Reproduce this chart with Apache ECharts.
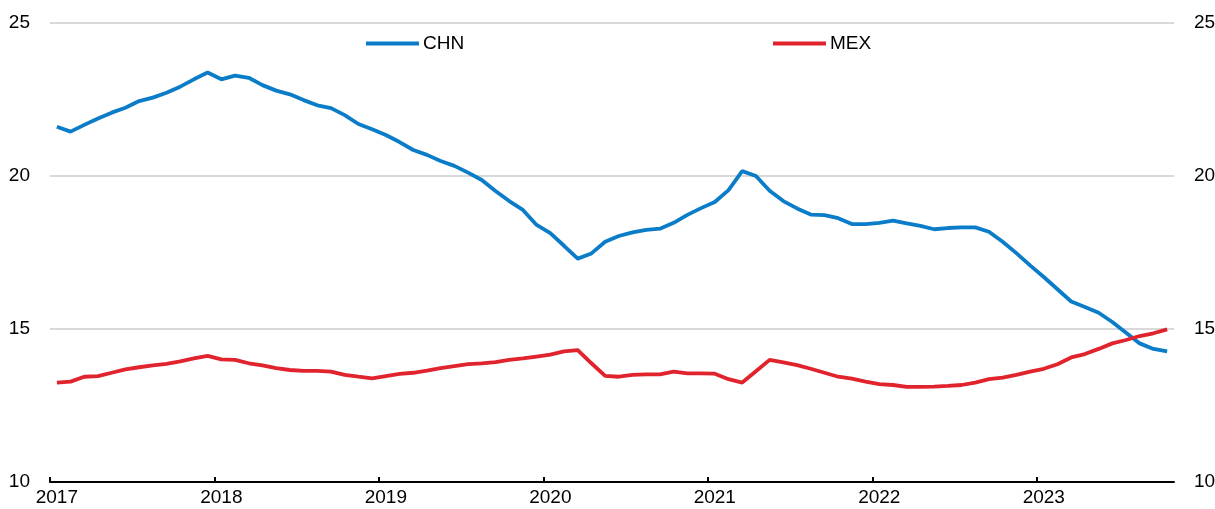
<!DOCTYPE html>
<html>
<head>
<meta charset="utf-8">
<script src="https://cdn.jsdelivr.net/npm/echarts@6/dist/echarts.min.js"></script>
<style>
  html, body { margin: 0; padding: 0; background: #fff; }
  #chart { width: 1215px; height: 509px; }
</style>
</head>
<body>
<div id="chart"></div>
<script>
// Monthly categories, Jan 2017 .. Oct 2023
const months = [
  '2017-01','2017-02','2017-03','2017-04','2017-05','2017-06','2017-07','2017-08','2017-09','2017-10','2017-11','2017-12',
  '2018-01','2018-02','2018-03','2018-04','2018-05','2018-06','2018-07','2018-08','2018-09','2018-10','2018-11','2018-12',
  '2019-01','2019-02','2019-03','2019-04','2019-05','2019-06','2019-07','2019-08','2019-09','2019-10','2019-11','2019-12',
  '2020-01','2020-02','2020-03','2020-04','2020-05','2020-06','2020-07','2020-08','2020-09','2020-10','2020-11','2020-12',
  '2021-01','2021-02','2021-03','2021-04','2021-05','2021-06','2021-07','2021-08','2021-09','2021-10','2021-11','2021-12',
  '2022-01','2022-02','2022-03','2022-04','2022-05','2022-06','2022-07','2022-08','2022-09','2022-10','2022-11','2022-12',
  '2023-01','2023-02','2023-03','2023-04','2023-05','2023-06','2023-07','2023-08','2023-09','2023-10'
];
// Month boundaries (start of each month, plus the end of the last one) for the year ticks
const monthBounds = months.concat(['2023-11']);

const chn = [
  21.61,21.45,21.67,21.88,22.07,22.23,22.45,22.56,22.72,22.92,23.16,23.38,
  23.16,23.28,23.21,22.97,22.79,22.67,22.48,22.31,22.22,21.99,21.70,21.53,
  21.34,21.11,20.85,20.69,20.49,20.33,20.11,19.87,19.51,19.18,18.89,18.40,
  18.13,17.72,17.30,17.47,17.85,18.04,18.16,18.24,18.28,18.47,18.73,18.95,
  19.15,19.54,20.16,20.00,19.52,19.18,18.94,18.74,18.72,18.62,18.43,18.43,
  18.47,18.54,18.45,18.37,18.26,18.30,18.32,18.32,18.18,17.85,17.48,17.08,
  16.70,16.30,15.90,15.72,15.53,15.23,14.88,14.53,14.35,14.27
];

const mex = [
  13.25,13.28,13.44,13.46,13.57,13.68,13.75,13.81,13.86,13.94,14.04,14.12,
  14.01,13.99,13.88,13.81,13.72,13.66,13.63,13.63,13.61,13.50,13.44,13.39,
  13.46,13.53,13.57,13.64,13.72,13.79,13.85,13.88,13.92,13.99,14.04,14.10,
  14.16,14.27,14.31,13.88,13.47,13.44,13.50,13.52,13.52,13.61,13.55,13.55,
  13.54,13.36,13.25,13.62,13.99,13.91,13.82,13.70,13.57,13.44,13.38,13.28,
  13.20,13.17,13.11,13.11,13.12,13.14,13.17,13.25,13.36,13.41,13.50,13.61,
  13.70,13.85,14.07,14.18,14.35,14.53,14.64,14.77,14.86,14.99
];

const yTicks = { min: 10, max: 25, interval: 5 };

const FONT = "'Liberation Sans', Arial, sans-serif";
const FS = 19;
const BLUE = '#0a7cc8';
const RED = '#e0232d';

const chart = echarts.init(document.getElementById('chart'), null, { renderer: 'canvas' });

const isJan = (idx, val) => String(val).slice(5) === '01';
const gridBox = { left: 50, right: 41, top: 23, bottom: 27, outerBoundsMode: 'none', containLabel: false };

chart.setOption({
  animation: false,
  backgroundColor: '#fff',
  grid: [ Object.assign({}, gridBox), Object.assign({}, gridBox) ],
  legend: [
    {
      data: ['CHN'], left: 366, top: 34, padding: 0, icon: 'rect',
      itemWidth: 53, itemHeight: 4, itemGap: 0,
      textStyle: { fontFamily: FONT, fontSize: FS, color: '#000', padding: [0, 0, 0, -1] }
    },
    {
      data: ['MEX'], left: 773, top: 34, padding: 0, icon: 'rect',
      itemWidth: 53, itemHeight: 4, itemGap: 0,
      textStyle: { fontFamily: FONT, fontSize: FS, color: '#000', padding: [0, 0, 0, -1] }
    }
  ],
  xAxis: [
    {
      gridIndex: 0,
      type: 'category',
      data: months,
      boundaryGap: true,
      axisLine: { show: true, lineStyle: { color: '#000', width: 2 } },
      axisTick: { show: false },
      axisLabel: {
        interval: isJan,
        formatter: v => v.slice(0, 4),
        fontFamily: FONT, fontSize: FS, color: '#000', margin: 6
      },
      splitLine: { show: false },
      z: 5
    },
    {
      gridIndex: 1,
      type: 'category',
      data: monthBounds,
      boundaryGap: false,
      axisLine: { show: false },
      axisTick: { show: true, inside: true, length: 5, interval: isJan, lineStyle: { color: '#000', width: 2 } },
      axisLabel: { show: false },
      splitLine: { show: false },
      z: 5
    }
  ],
  yAxis: [
    {
      gridIndex: 0,
      type: 'value', min: yTicks.min, max: yTicks.max, interval: yTicks.interval,
      position: 'left',
      axisLine: { show: false }, axisTick: { show: false },
      axisLabel: { fontFamily: FONT, fontSize: FS, color: '#000', margin: 20 },
      splitLine: { show: true, lineStyle: { color: '#d9d9d9', width: 2 } }
    },
    {
      gridIndex: 0,
      type: 'value', min: yTicks.min, max: yTicks.max, interval: yTicks.interval,
      position: 'right',
      axisLine: { show: false }, axisTick: { show: false },
      axisLabel: { fontFamily: FONT, fontSize: FS, color: '#000', margin: 20 },
      splitLine: { show: false }
    },
    {
      gridIndex: 1,
      type: 'value', min: yTicks.min, max: yTicks.max, interval: yTicks.interval,
      show: false
    }
  ],
  series: [
    {
      name: 'CHN', type: 'line', data: chn, xAxisIndex: 0, yAxisIndex: 0,
      showSymbol: false, symbol: 'none',
      color: BLUE,
      lineStyle: { color: BLUE, width: 3.8 },
      itemStyle: { color: BLUE }
    },
    {
      name: 'MEX', type: 'line', data: mex, xAxisIndex: 0, yAxisIndex: 0,
      showSymbol: false, symbol: 'none',
      color: RED,
      lineStyle: { color: RED, width: 3.8 },
      itemStyle: { color: RED }
    }
  ]
});
</script>
</body>
</html>
